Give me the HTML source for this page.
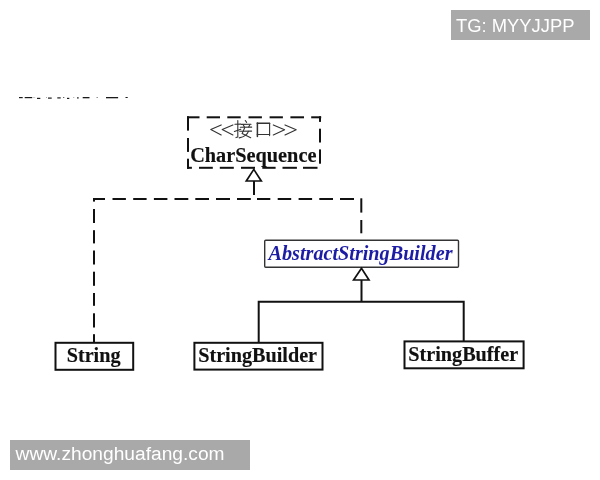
<!DOCTYPE html>
<html><head><meta charset="utf-8">
<style>
html,body{margin:0;padding:0;background:#fff;width:600px;height:480px;overflow:hidden}
svg{position:absolute;left:0;top:0;will-change:transform;filter:blur(0.35px)}
</style></head>
<body>
<svg width="600" height="480" viewBox="0 0 600 480">
<!-- watermark top right -->
<rect x="451" y="10" width="139" height="30" fill="#a9a9a9"/>
<text x="456" y="32" font-family="Liberation Sans" font-size="18" textLength="118.5" lengthAdjust="spacingAndGlyphs" fill="#fff">TG: MYYJJPP</text>
<!-- watermark bottom left -->
<rect x="10" y="440" width="240" height="30" fill="#a9a9a9"/>
<text x="15.6" y="459.6" font-family="Liberation Sans" font-size="17.6" textLength="209" lengthAdjust="spacingAndGlyphs" fill="#fff">www.zhonghuafang.com</text>

<!-- cut-off text row -->
<g fill="#1a1a1a">
<rect x="19" y="97" width="3.7" height="1.2"/>
<rect x="24.7" y="97" width="7.5" height="1.2"/>
<rect x="32.2" y="97" width="3" height="1" fill="#ccc"/>
<rect x="37" y="97.8" width="3.3" height="1.2"/>
<rect x="46" y="97" width="1" height="1" fill="#aaa"/>
<rect x="48" y="97.5" width="3.7" height="1.2"/>
<rect x="57.3" y="97.3" width="3.4" height="1.2"/>
<rect x="63" y="97" width="1.3" height="1" fill="#666"/>
<rect x="67" y="97.8" width="2.3" height="1.2"/>
<rect x="73" y="97" width="1.3" height="1" fill="#bbb"/>
<rect x="77" y="97.3" width="1.7" height="1.2"/>
<rect x="82.7" y="97" width="6.8" height="1.3"/>
<rect x="96.5" y="97" width="1.4" height="1" fill="#888"/>
<rect x="106" y="97" width="12.1" height="1.3"/>
<rect x="125.5" y="97" width="2.2" height="1"/>
</g>

<!-- dashed interface box -->
<g fill="#111">
<!-- top edge y 116.5-118.5 -->
<rect x="187" y="116.3" width="12.5" height="2"/>
<rect x="206.7" y="116.3" width="13.3" height="2"/>
<rect x="227.3" y="116.3" width="13.4" height="2"/>
<rect x="248.5" y="116.3" width="13.4" height="2"/>
<rect x="269.6" y="116.3" width="13.3" height="2"/>
<rect x="290.4" y="116.3" width="13.6" height="2"/>
<rect x="311.2" y="116.3" width="10" height="2"/>
<!-- right edge -->
<rect x="319" y="116.3" width="2" height="5.6"/>
<rect x="319" y="128.7" width="2" height="13.8"/>
<rect x="319" y="149.4" width="2" height="14.3"/>
<!-- bottom edge -->
<rect x="187" y="166.8" width="4.9" height="2"/>
<rect x="199" y="166.8" width="13.8" height="2"/>
<rect x="219.8" y="166.8" width="14" height="2"/>
<rect x="241" y="166.8" width="14" height="2"/>
<rect x="262.3" y="166.8" width="13.3" height="2"/>
<rect x="282.5" y="166.8" width="14.4" height="2"/>
<rect x="303" y="166.8" width="14.5" height="2"/>
<!-- left edge -->
<rect x="187" y="116.3" width="2" height="14.3"/>
<rect x="187" y="138" width="2" height="13.9"/>
<rect x="187" y="158.7" width="2" height="10.1"/>
</g>
<!-- <<接口>> -->
<g fill="none" stroke="#333" stroke-width="1.1" stroke-linecap="round" stroke-linejoin="round">
<path d="M221.2 124.9 L210.8 129.6 L221.2 134.9"/>
<path d="M232.9 124.9 L222.2 129.6 L232.9 134.9"/>
<path d="M273.3 124.9 L284.6 129.8 L273.3 134.9"/>
<path d="M285 124.9 L296.2 129.8 L285 134.9"/>
<!-- 接 -->
<path d="M234.9 124.3 L240.8 124.1"/>
<path d="M237.8 120.5 L237.8 137 L236 137.6"/>
<path d="M234.4 131.5 L240.8 129.2"/>
<path d="M245.3 120.5 L246.6 122.4"/>
<path d="M241.5 124.4 L251 124.2"/>
<path d="M243.4 125.3 L244.4 126.9"/>
<path d="M249.8 124.8 L248.7 126.9"/>
<path d="M240.3 127.3 L251.7 127.1"/>
<path d="M239.7 131.3 L251.6 131.1"/>
<path d="M244.7 127.8 L242.1 133.6 L250.7 137.7"/>
<path d="M248.4 131.3 Q247 136 239.2 137.9"/>
<!-- 口 -->
<path d="M257.4 123 L257.4 136.6" stroke-width="1.5"/>
<path d="M257.2 123.2 L269.6 123.2" stroke-width="1.4"/>
<path d="M269.6 123.2 L269.6 135.6"/>
<path d="M257.2 134.5 L269.6 134.5"/>
</g>
<text x="190.2" y="161.8" font-family="Liberation Serif" font-weight="bold" font-size="20.3" fill="#111" stroke="#111" stroke-width="0.15">CharSequence</text>

<!-- triangle + stem from interface -->
<g fill="none" stroke="#111" stroke-width="2">
<path d="M253.8 169.4 L246.3 181 L261.3 181 Z" fill="#fff" stroke-width="1.7"/>
<path d="M254 181 L254 195"/>
</g>

<!-- horizontal dashed connector y=199 -->
<g fill="#111">
<rect x="93" y="198" width="12" height="2"/>
<rect x="93" y="198" width="2" height="3.6"/>
<rect x="112.5" y="198" width="13.4" height="2"/>
<rect x="133.2" y="198" width="13.4" height="2"/>
<rect x="153.9" y="198" width="13.5" height="2"/>
<rect x="174.5" y="198" width="13.8" height="2"/>
<rect x="195.3" y="198" width="13.7" height="2"/>
<rect x="216" y="198" width="14" height="2"/>
<rect x="237" y="198" width="13.8" height="2"/>
<rect x="257" y="198" width="13.3" height="2"/>
<rect x="277.7" y="198" width="13.5" height="2"/>
<rect x="298.6" y="198" width="13.5" height="2"/>
<rect x="319.3" y="198" width="13.7" height="2"/>
<rect x="340" y="198" width="14" height="2"/>
<!-- right vertical x=361 -->
<rect x="360.3" y="198.3" width="2" height="14.3"/>
<rect x="360.3" y="220" width="2" height="13.3"/>
<!-- left vertical x=94 -->
<rect x="93" y="209" width="2" height="14"/>
<rect x="93" y="230.2" width="2" height="13.2"/>
<rect x="93" y="250.5" width="2" height="14"/>
<rect x="93" y="271.7" width="2" height="14.1"/>
<rect x="93" y="293" width="2" height="12.8"/>
<rect x="93" y="313.3" width="2" height="14.2"/>
<rect x="93" y="334.2" width="2" height="8"/>
</g>

<!-- AbstractStringBuilder box -->
<rect x="264.7" y="240.2" width="193.8" height="27.1" rx="1" fill="#fff" stroke="#333" stroke-width="1.4"/>
<text x="268.5" y="259.5" font-family="Liberation Serif" font-weight="bold" font-style="italic" font-size="20.2" fill="#1c1ca4">AbstractStringBuilder</text>

<!-- triangle under abstract -->
<g fill="none" stroke="#111" stroke-width="2">
<path d="M361.5 268.2 L353.6 280 L369 280 Z" fill="#fff" stroke-width="1.7"/>
<path d="M361.5 280 L361.5 301"/>
<path d="M258.7 342 L258.7 301.7 L463.7 301.7 L463.7 341"/>
</g>

<!-- class boxes -->
<g fill="#fff" stroke="#111" stroke-width="2">
<rect x="55.5" y="342.8" width="77.7" height="27"/>
<rect x="194.4" y="342.8" width="128.1" height="26.8"/>
<rect x="404.5" y="341.4" width="119.1" height="26.9"/>
</g>
<g font-family="Liberation Serif" font-weight="bold" font-size="20.2" fill="#111" stroke="#111" stroke-width="0.15">
<text x="66.7" y="362.2">String</text>
<text x="198.2" y="362.1">StringBuilder</text>
<text x="408.3" y="361">StringBuffer</text>
</g>
</svg>
</body></html>
